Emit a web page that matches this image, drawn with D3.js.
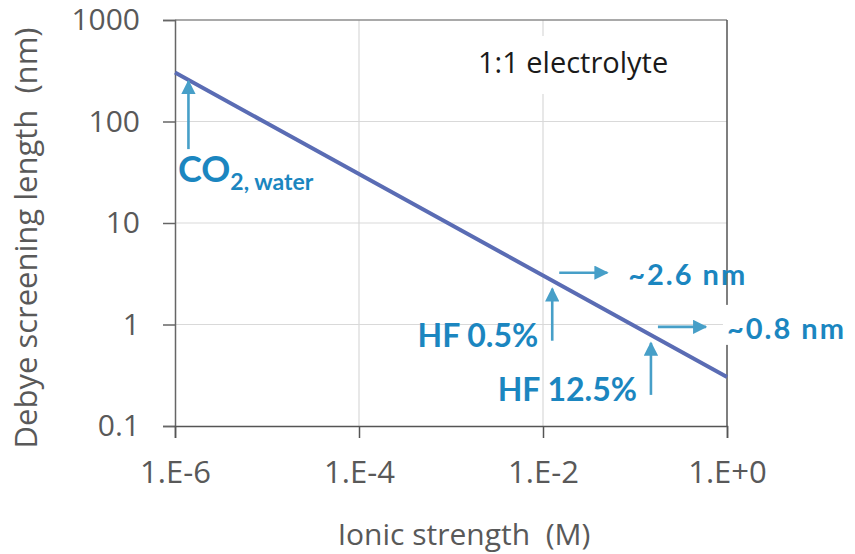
<!DOCTYPE html>
<html>
<head>
<meta charset="utf-8">
<script src="https://cdn.jsdelivr.net/npm/d3@7"></script>
<style>
  body { margin: 0; background: #fff; }
  svg { display: block; }
</style>
</head>
<body>
<svg id="chart" width="855" height="554"></svg>
<script>
// Debye screening length of a 1:1 electrolyte versus ionic strength
const ionicStrength = [1e-6, 1e-5, 1e-4, 1e-3, 1e-2, 1e-1, 1];
const debyeLength   = [304, 96, 30.4, 9.6, 3.04, 0.96, 0.304];

const xTicks = [1e-6, 1e-4, 1e-2, 1];
const xTickLabels = ["1.E-6", "1.E-4", "1.E-2", "1.E+0"];
const yTicks = [0.1, 1, 10, 100, 1000];
const yTickLabels = ["0.1", "1", "10", "100", "1000"];

const markNames = ["HF 0.5%", "HF 12.5%"];
const markStrength = [0.0126, 0.149];
const markLength = [2.7, 0.79];
const markLengthText = ["~2.6 nm", "~0.8 nm"];
const co2Strength = 1.4e-6;
const co2Length = 250;

const svg = d3.select("#chart");
const plot = { left: 175, right: 727, top: 20, bottom: 426 };

const x = d3.scaleLog().domain([1e-6, 1]).range([plot.left, plot.right]);
const y = d3.scaleLog().domain([0.1, 1000]).range([plot.bottom, plot.top]);

const axisGray = "#8c8c8c";
const gridGray = "#d9d9d9";
const axisFont = "'Open Sans', sans-serif";
const noteFont = "Lato, 'Open Sans', sans-serif";
const noteBlue = "#1b86c0";
const arrowBlue = "#479fc8";

// Gridlines
svg.append("g").selectAll("line").data(yTicks.slice(1, -1)).join("line")
  .attr("x1", plot.left).attr("x2", plot.right)
  .attr("y1", d => y(d)).attr("y2", d => y(d))
  .attr("stroke", gridGray).attr("stroke-width", 1.2);
svg.append("g").selectAll("line").data(xTicks.slice(1, -1)).join("line")
  .attr("y1", plot.top).attr("y2", plot.bottom)
  .attr("x1", d => x(d)).attr("x2", d => x(d))
  .attr("stroke", gridGray).attr("stroke-width", 1.2);

// Frame: top and right edges
svg.append("line").attr("x1", plot.left).attr("x2", plot.right)
  .attr("y1", plot.top).attr("y2", plot.top)
  .attr("stroke", axisGray).attr("stroke-width", 1.5);
svg.append("line").attr("x1", plot.right).attr("x2", plot.right)
  .attr("y1", plot.top).attr("y2", plot.bottom)
  .attr("stroke", "#555").attr("stroke-width", 1.5);

// Axes
const yAxis = d3.axisLeft(y).tickValues(yTicks)
  .tickFormat((d, i) => yTickLabels[i]).tickSize(12).tickPadding(23);
const gy = svg.append("g").attr("transform", `translate(${plot.left},0)`).call(yAxis);
gy.select(".domain").attr("stroke", "#666").attr("stroke-width", 1.5);
gy.selectAll(".tick line").attr("stroke", "#666").attr("stroke-width", 1.5);
gy.selectAll(".tick text").attr("fill", "#595959")
  .style("font-family", axisFont).style("font-size", "30px");

const xAxis = d3.axisBottom(x).tickValues(xTicks)
  .tickFormat((d, i) => xTickLabels[i]).tickSize(12).tickPadding(23);
const gx = svg.append("g").attr("transform", `translate(0,${plot.bottom})`).call(xAxis);
gx.select(".domain").attr("stroke", "#555").attr("stroke-width", 1.5);
gx.selectAll(".tick line").attr("stroke", "#555").attr("stroke-width", 1.5);
gx.selectAll(".tick text").attr("fill", "#595959")
  .style("font-family", axisFont).style("font-size", "31px");

// Axis titles
svg.append("text")
  .attr("transform", `translate(37,238) rotate(-90)`)
  .attr("text-anchor", "middle").attr("fill", "#595959")
  .attr("xml:space", "preserve")
  .style("font-family", axisFont).style("font-size", "31px")
  .text("Debye screening length  (nm)");
svg.append("text")
  .attr("x", 464).attr("y", 545)
  .attr("text-anchor", "middle").attr("fill", "#595959")
  .attr("xml:space", "preserve")
  .style("font-family", axisFont).style("font-size", "30px")
  .text("Ionic strength  (M)");

// Note with white backing
svg.append("rect").attr("x", 462).attr("y", 36).attr("width", 245).attr("height", 58).attr("fill", "#fff");
svg.append("text").attr("x", 478).attr("y", 73).attr("fill", "#1a1a1a")
  .style("font-family", axisFont).style("font-size", "29px")
  .text("1:1 electrolyte");

// Debye length line
const line = d3.line().x((d, i) => x(ionicStrength[i])).y(d => y(d));
svg.append("path").datum(debyeLength)
  .attr("d", line).attr("fill", "none")
  .attr("stroke", "#5a6cb4").attr("stroke-width", 4);

// Arrow heads
svg.append("defs").append("marker").attr("id", "head")
  .attr("viewBox", "0 0 10 10").attr("refX", 9).attr("refY", 5)
  .attr("markerWidth", 5.5).attr("markerHeight", 5.5).attr("markerUnits", "strokeWidth")
  .attr("orient", "auto")
  .append("path").attr("d", "M0,0 L10,5 L0,10 Z").attr("fill", arrowBlue);

function arrow(x1, y1, x2, y2) {
  svg.append("line").attr("x1", x1).attr("y1", y1).attr("x2", x2).attr("y2", y2)
    .attr("stroke", arrowBlue).attr("stroke-width", 2.6).attr("marker-end", "url(#head)");
}

// CO2 in water
const cx = x(co2Strength);
const cy = y(co2Length);
arrow(cx, cy + 68, cx, cy);
const co2 = svg.append("text").attr("x", plot.left + 3).attr("y", 182)
  .attr("fill", noteBlue).style("font-family", noteFont).style("font-weight", 700)
  .style("font-size", "36px");
co2.append("tspan").text("CO");
co2.append("tspan").attr("dy", 8).style("font-size", "23px").text("2, water");

// HF marks
markStrength.forEach((s, i) => {
  const px = x(s);
  const py = y(markLength[i]);
  arrow(px, py + 60, px, py + 8);
  arrow(px + 7, py - 8, px + 55, py - 8);
  if (i === 1) {
    svg.append("rect").attr("x", px + 72).attr("y", py - 30).attr("width", 135).attr("height", 40).attr("fill", "#fff");
  }
  svg.append("text").attr("x", px + 76).attr("y", py + 4)
    .attr("fill", noteBlue).style("font-family", noteFont).style("font-weight", 700)
    .style("font-size", "29px").style("letter-spacing", "2px").text(markLengthText[i]);
  svg.append("text").attr("x", px - 14).attr("y", py + 66)
    .attr("text-anchor", "end")
    .attr("fill", noteBlue).style("font-family", noteFont).style("font-weight", 700)
    .style("font-size", "32px").text(markNames[i]);
});
</script>
</body>
</html>
